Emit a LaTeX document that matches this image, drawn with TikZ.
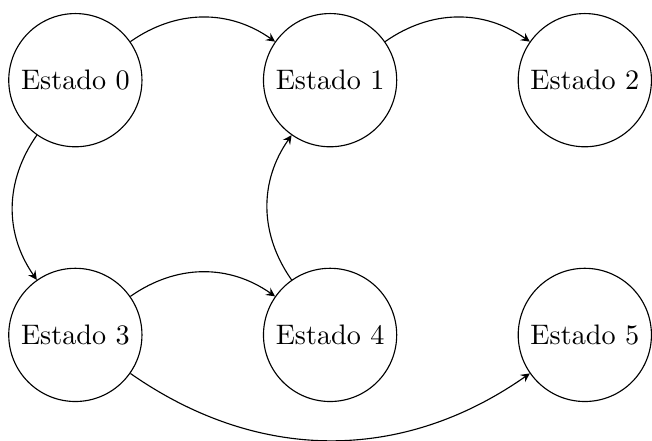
\documentclass[tikz,border=0pt]{standalone}
\usetikzlibrary{positioning,arrows,calc}
\begin{document}
\begin{tikzpicture}[>=stealth, node distance=1.5cm, estado/.style={circle,draw}, trans/.style={->}, bend angle=35]
\node[estado] (s0) {Estado 0};
\node[estado, right=of s0] (s1) {Estado 1};
\node[estado, right=of s1] (s2) {Estado 2};
\node[estado, below=of s0] (s3) {Estado 3};
\node[estado, right=of s3] (s4) {Estado 4};
\node[estado, right=of s4] (s5) {Estado 5};
\path[use as bounding box] ($(s0.west |- s0.north)+(-2.9pt,4.6pt)$) rectangle ($(s2.east |- s3.south)+(0,-13.8pt)$);
\draw[trans] (s0) to[bend left] (s1);
\draw[trans] (s1) to[bend left] (s2);
\draw[trans] (s0) to[bend right] (s3);
\draw[trans] (s3) to[bend left] (s4);
\draw[trans] (s4) to[bend left] (s1);
\draw[trans] (s3) to[bend right] (s5);
\end{tikzpicture}
\end{document}
